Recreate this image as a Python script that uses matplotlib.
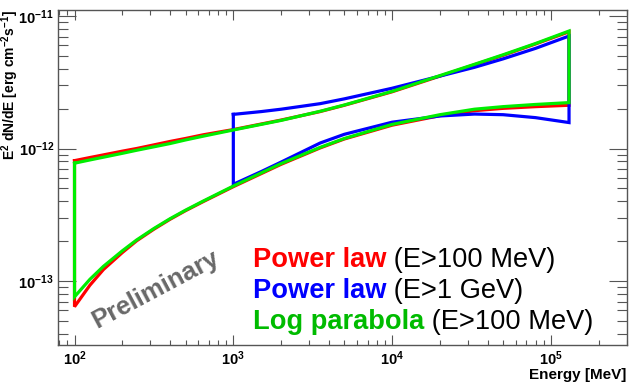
import numpy as np
import matplotlib
matplotlib.use('Agg')
import matplotlib.pyplot as plt
from matplotlib.ticker import LogLocator, NullFormatter

plt.rcParams['font.family'] = ['Liberation Sans', 'DejaVu Sans']
plt.rcParams['mathtext.fontset'] = 'custom'
plt.rcParams['mathtext.rm'] = 'Liberation Sans'
plt.rcParams['mathtext.bf'] = 'Liberation Sans:bold'

# butterfly outlines (E in MeV, E^2 dN/dE in erg cm^-2 s^-1)
# power law, E>100 MeV
pl_E = [100, 125, 152, 200, 246, 316, 399, 499, 648, 1000, 2000, 3520, 5000,
        1e4, 2e4, 3.3e4, 5e4, 8e4, 1.3e5]
pl_up = [8.1e-13, 8.55e-13, 8.95e-13, 9.55e-13, 1.0e-12, 1.065e-12, 1.13e-12, 1.19e-12,
         1.27e-12, 1.39e-12, 1.64e-12, 1.90e-12, 2.12e-12, 2.68e-12, 3.52e-12, 4.29e-12,
         5.05e-12, 6.15e-12, 7.6e-12]
pl_lo = [6.4e-14, 9.3e-14, 1.22e-13, 1.64e-13, 2.01e-13, 2.46e-13, 2.92e-13, 3.39e-13,
         3.98e-13, 5.15e-13, 7.6e-13, 1.01e-12, 1.18e-12, 1.50e-12, 1.77e-12, 1.93e-12,
         2.01e-12, 2.07e-12, 2.12e-12]

# power law, E>1 GeV
gev_E = [1000, 1500, 2000, 3520, 5000, 1e4, 2e4, 3.3e4, 5e4, 8e4, 1.3e5]
gev_up = [1.81e-12, 1.90e-12, 1.98e-12, 2.18e-12, 2.37e-12, 2.85e-12, 3.52e-12, 4.1e-12,
          4.75e-12, 5.7e-12, 7.06e-12]
gev_lo = [5.37e-13, 6.7e-13, 7.9e-13, 1.1e-12, 1.28e-12, 1.58e-12, 1.76e-12, 1.82e-12,
          1.80e-12, 1.71e-12, 1.57e-12]

# log parabola, E>100 MeV
lp_E = [100, 125, 152, 200, 246, 316, 399, 499, 648, 1000, 2000, 3520, 5000,
        1e4, 2e4, 3.3e4, 5e4, 8e4, 1.3e5]
lp_up = [7.75e-13, 8.2e-13, 8.6e-13, 9.2e-13, 9.7e-13, 1.03e-12, 1.09e-12, 1.16e-12,
         1.24e-12, 1.38e-12, 1.63e-12, 1.91e-12, 2.13e-12, 2.70e-12, 3.55e-12, 4.32e-12,
         5.1e-12, 6.2e-12, 7.7e-12]
lp_lo = [7.6e-14, 1.03e-13, 1.29e-13, 1.69e-13, 2.04e-13, 2.49e-13, 2.95e-13, 3.42e-13,
         4.02e-13, 5.21e-13, 7.7e-13, 1.02e-12, 1.19e-12, 1.52e-12, 1.80e-12, 1.98e-12,
         2.07e-12, 2.15e-12, 2.22e-12]

names = ['Power law', 'Power law', 'Log parabola']
ranges = ['(E>100 MeV)', '(E>1 GeV)', '(E>100 MeV)']
text_colors = ['#ff0000', '#0000ff', '#00bb00']

xticks = [1e2, 1e3, 1e4, 1e5]
xlabels = [r'$\mathbf{10^{2}}$', r'$\mathbf{10^{3}}$', r'$\mathbf{10^{4}}$', r'$\mathbf{10^{5}}$']
yticks = [1e-13, 1e-12, 1e-11]
ylabels = [r'$\mathbf{10^{-13}}$', r'$\mathbf{10^{-12}}$', r'$\mathbf{10^{-11}}$']

W, H = 635, 387
fig = plt.figure(figsize=(W / 100, H / 100), dpi=100)
ax = fig.add_axes([58 / W, 1 - 345 / H, (626.7 - 58) / W, (345 - 10) / H])


def outline(E, up, lo):
    # closed contour: upper edge, right end, lower edge back, left end
    x = np.concatenate([E, E[::-1], E[:1]])
    y = np.concatenate([up, lo[::-1], up[:1]])
    return x, y


for E, up, lo, c in [(pl_E, pl_up, pl_lo, '#ff0000'),
                     (gev_E, gev_up, gev_lo, '#0000ff'),
                     (lp_E, lp_up, lp_lo, '#00ee00')]:
    x, y = outline(np.array(E), np.array(up), np.array(lo))
    ax.plot(x, y, color=c, lw=2.3, solid_joinstyle='miter')

ax.set_xscale('log')
ax.set_yscale('log')
ax.set_xlim(78.7, 3.0e5)
ax.set_ylim(3.29e-14, 1.11e-11)

ax.set_xticks(xticks)
ax.set_xticklabels(xlabels)
ax.set_yticks(yticks)
ax.set_yticklabels(ylabels)
ax.xaxis.set_minor_locator(LogLocator(base=10, subs=np.arange(2, 10), numticks=30))
ax.yaxis.set_minor_locator(LogLocator(base=10, subs=np.arange(2, 10), numticks=30))
ax.xaxis.set_minor_formatter(NullFormatter())
ax.yaxis.set_minor_formatter(NullFormatter())

ax.tick_params(which='both', direction='in', top=True, right=True,
               color='#555555', width=0.8, labelsize=10.5)
ax.tick_params(axis='x', which='major', length=7.2, pad=3.5)
ax.tick_params(axis='x', which='minor', length=3.6)
ax.tick_params(axis='y', which='major', length=12.7, pad=3)
ax.tick_params(axis='y', which='minor', length=7.2)
for s in ax.spines.values():
    s.set_color('#555555')
    s.set_linewidth(1.0)

fig.text(626 / W, 1 - 375 / H, 'Energy [MeV]', ha='right', va='center',
         fontsize=11, fontweight='bold')
fig.text(10 / W, 1 - 10 / H, r'E$^\mathbf{2}$ dN/dE [erg cm$^\mathbf{-2}$s$^\mathbf{-1}$]',
         rotation=90, ha='center', va='top', fontsize=10, fontweight='bold')

fig.text(156 / W, 1 - 289 / H, 'Preliminary', rotation=28, ha='center', va='center',
         fontsize=18.5, fontweight='bold', color='#686868')

baselines = [267, 298, 329]
for name, rng, c, yb in zip(names, ranges, text_colors, baselines):
    t = fig.text(253 / W, 1 - yb / H, name, color=c, fontsize=19.6,
                 fontweight='bold', va='baseline')
    ax.annotate(' ' + rng, xy=(1, 0), xycoords=t, va='bottom', ha='left',
                fontsize=19.6, color='black', annotation_clip=False)

fig.savefig('out.png', dpi=100)
